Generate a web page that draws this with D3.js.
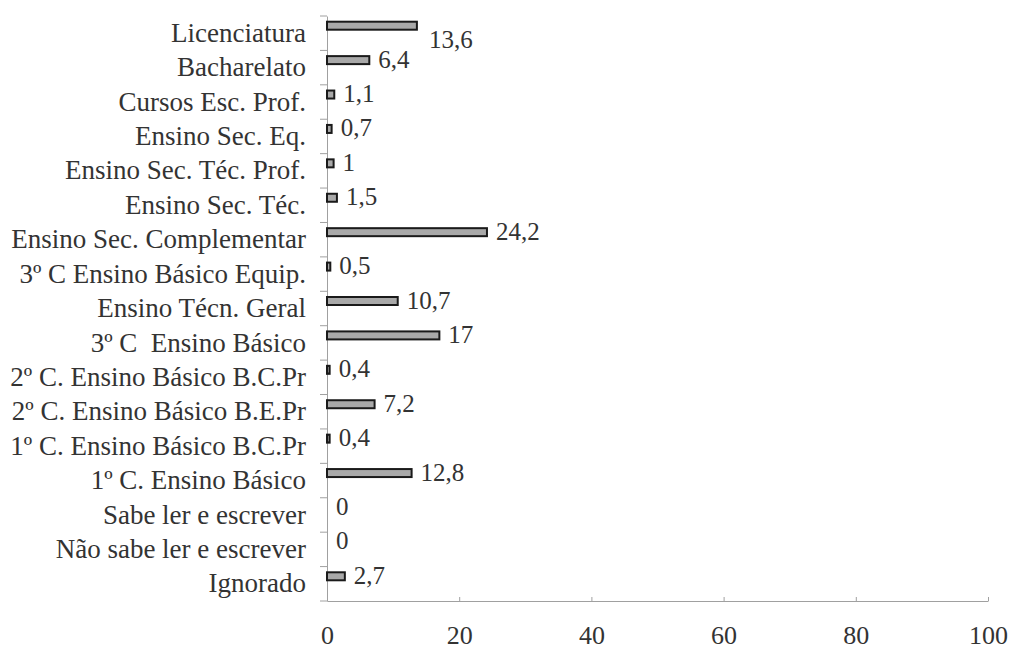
<!DOCTYPE html>
<html>
<head>
<meta charset="utf-8">
<script src="https://cdn.jsdelivr.net/npm/d3@7"></script>
<style>
  body { margin: 0; background: #fff; }
</style>
</head>
<body>
<div id="chart"></div>
<script>
// categories, top to bottom
const categories = [
    "Licenciatura",
    "Bacharelato",
    "Cursos Esc. Prof.",
    "Ensino Sec. Eq.",
    "Ensino Sec. Téc. Prof.",
    "Ensino Sec. Téc.",
    "Ensino Sec. Complementar",
    "3º C Ensino Básico Equip.",
    "Ensino Técn. Geral",
    "3º C  Ensino Básico",
    "2º C. Ensino Básico B.C.Pr",
    "2º C. Ensino Básico B.E.Pr",
    "1º C. Ensino Básico B.C.Pr",
    "1º C. Ensino Básico",
    "Sabe ler e escrever",
    "Não sabe ler e escrever",
    "Ignorado"
];

const values = [13.6, 6.4, 1.1, 0.7, 1, 1.5, 24.2, 0.5, 10.7, 17, 0.4, 7.2, 0.4, 12.8, 0, 0, 2.7];

const xTicks = [0, 20, 40, 60, 80, 100];

const width = 1011;
const height = 650;
const serif = "'Liberation Serif', 'Times New Roman', Tinos";

const svg = d3.select("#chart")
    .append("svg")
    .attr("width", width)
    .attr("height", height);

const x = d3.scaleLinear().domain([0, 100]).range([327, 988]);
const y = d3.scaleBand().domain(categories).range([16, 601]);

const fmt = v => d3.format("")(v).replace(".", ",");

// x axis, ticks pointing up
const xAxis = svg.append("g")
    .attr("transform", "translate(0,601)")
    .call(d3.axisBottom(x).tickValues(xTicks).tickSize(-4).tickSizeOuter(0).tickPadding(25));
xAxis.select(".domain").attr("stroke", "#a0a0a0");
xAxis.selectAll(".tick line").attr("stroke", "#a0a0a0");
xAxis.selectAll(".tick text")
    .style("font-family", serif)
    .style("font-size", "26px")
    .style("fill", "#333");

// y axis with labels
const yAxis = svg.append("g")
    .attr("transform", "translate(327,0)")
    .call(d3.axisLeft(y).tickSize(0).tickSizeOuter(0).tickPadding(21));
yAxis.select(".domain").attr("stroke", "#a0a0a0");
yAxis.selectAll(".tick text")
    .style("font-family", serif)
    .style("font-size", "27px")
    .style("white-space", "pre")
    .style("fill", "#333");

// ticks between categories
const bounds = categories.map(d => y(d)).concat([y.range()[1]]);
svg.append("g")
    .selectAll("line")
    .data(bounds)
    .enter()
    .append("line")
    .attr("x1", x(0) - 7)
    .attr("x2", x(0))
    .attr("y1", d => d)
    .attr("y2", d => d)
    .attr("stroke", "#a0a0a0");

const barH = 8;
const barShift = -7.5; // bars sit a bit above band centre

const data = categories.map((c, i) => ({ cat: c, value: values[i], i: i }));

// bars
svg.append("g")
    .selectAll("rect")
    .data(data.filter(d => d.value > 0))
    .enter()
    .append("rect")
    .attr("x", x(0))
    .attr("y", d => y(d.cat) + y.bandwidth() / 2 + barShift - barH / 2)
    .attr("width", d => x(d.value) - x(0))
    .attr("height", barH)
    .attr("fill", "#a9a9a9")
    .attr("stroke", "#1a1a1a")
    .attr("stroke-width", 2);

// value labels (the first one sits lower in the original)
svg.append("g")
    .selectAll("text")
    .data(data)
    .enter()
    .append("text")
    .attr("x", d => x(d.value) + (d.i === 0 ? 12 : 9))
    .attr("y", d => y(d.cat) + y.bandwidth() / 2 + barShift + (d.i === 0 ? 14 : -1))
    .attr("dy", "0.34em")
    .style("font-family", serif)
    .style("font-size", "25px")
    .style("fill", "#333")
    .text(d => fmt(d.value));
</script>
</body>
</html>
